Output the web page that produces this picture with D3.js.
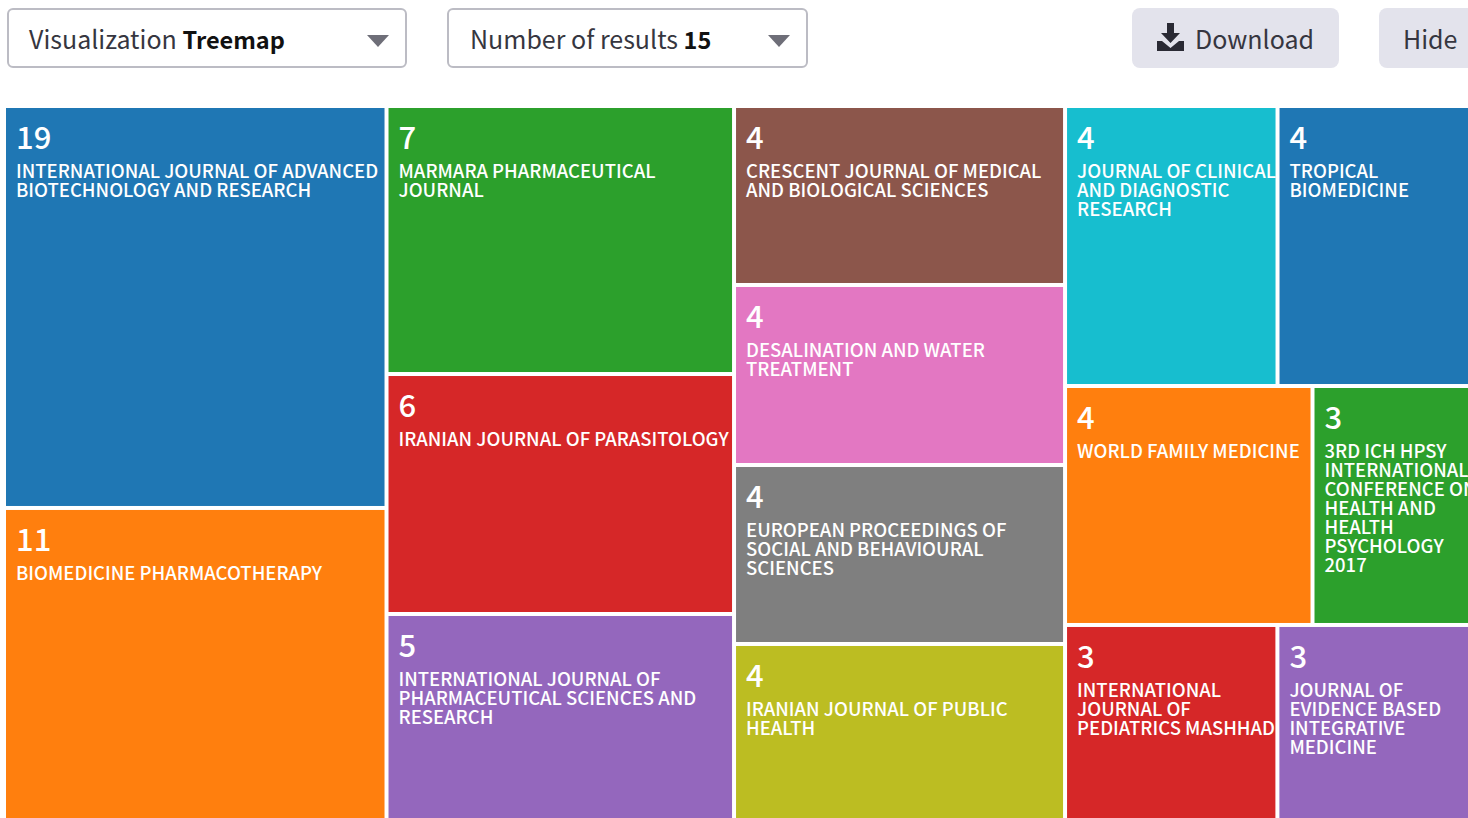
<!DOCTYPE html>
<html lang="en">
<head>
    <meta charset="UTF-8">
    <title>Treemap of sources</title>
    <script src="https://d3js.org/d3.v7.min.js"></script>
    <style>
        html, body {
            margin: 0;
            width: 1468px;
            height: 818px;
            overflow: hidden;
            background: #fff;
            font-family: "Noto Sans CJK SC", "Noto Sans", sans-serif;
        }
        svg {
            position: absolute;
            left: 0;
            top: 0;
        }
        .control {
            position: absolute;
            box-sizing: border-box;
            top: 8px;
            height: 60px;
            line-height: 56px;
            font-size: 25px;
            color: #363640;
            white-space: nowrap;
        }
        .select {
            background: #fff;
            border: 2px solid #bcbcc4;
            border-radius: 6px;
        }
        .select b {
            color: #111;
            font-size: 23.5px;
            font-weight: 700;
        }
        .select span {
            position: absolute;
            left: 20px;
            top: 0;
        }
        .select i {
            position: absolute;
            top: 25px;
            width: 0;
            height: 0;
            border-left: 11px solid transparent;
            border-right: 11px solid transparent;
            border-top: 12px solid #6e6e78;
        }
        .button {
            background: #e3e3ec;
            border-radius: 8px;
            line-height: 60px;
        }
        .button span {
            position: absolute;
            top: 0;
        }
        .count {
            fill: #fff;
            font-size: 31px;
            font-weight: 500;
        }
        .label {
            fill: #fff;
            font-size: 18.5px;
            font-weight: 500;
        }
    </style>
</head>
<body>
    <div class="control select" style="left:7px;width:400px"><span>Visualization <b>Treemap</b></span><i style="left:358px"></i></div>
    <div class="control select" style="left:447px;width:361px"><span style="left:21px">Number of results <b>15</b></span><i style="left:319px"></i></div>
    <div class="control button" style="left:1132px;width:207px">
        <svg width="30" height="30" style="left:24px;top:15px" viewBox="0 0 30 30">
            <path d="M11 0h7v10h6L14.500 20 5 10h6z" fill="#2a2a34"/>
            <path d="M1 18h5l8.500 7 8.500-7h5v10H1z" fill="#2a2a34"/>
        </svg>
        <span style="left:63px">Download</span>
    </div>
    <div class="control button" style="left:1379px;width:120px"><span style="left:24px">Hide</span></div>
    <div id="chart"></div>
    <script>
        // counts shown in the cells
        var counts = [19, 11, 7, 6, 5, 4, 4, 4, 4, 4, 4, 4, 3, 3, 3];

        // journal names, one entry per line as wrapped in the cell
        var names = [
            ["INTERNATIONAL JOURNAL OF ADVANCED", "BIOTECHNOLOGY AND RESEARCH"],
            ["BIOMEDICINE PHARMACOTHERAPY"],
            ["MARMARA PHARMACEUTICAL", "JOURNAL"],
            ["IRANIAN JOURNAL OF PARASITOLOGY"],
            ["INTERNATIONAL JOURNAL OF", "PHARMACEUTICAL SCIENCES AND", "RESEARCH"],
            ["CRESCENT JOURNAL OF MEDICAL", "AND BIOLOGICAL SCIENCES"],
            ["DESALINATION AND WATER", "TREATMENT"],
            ["EUROPEAN PROCEEDINGS OF", "SOCIAL AND BEHAVIOURAL", "SCIENCES"],
            ["IRANIAN JOURNAL OF PUBLIC", "HEALTH"],
            ["JOURNAL OF CLINICAL", "AND DIAGNOSTIC", "RESEARCH"],
            ["TROPICAL", "BIOMEDICINE"],
            ["WORLD FAMILY MEDICINE"],
            ["3RD ICH HPSY", "INTERNATIONAL", "CONFERENCE ON", "HEALTH AND", "HEALTH", "PSYCHOLOGY", "2017"],
            ["INTERNATIONAL", "JOURNAL OF", "PEDIATRICS MASHHAD"],
            ["JOURNAL OF", "EVIDENCE BASED", "INTEGRATIVE", "MEDICINE"]
        ];

        // tile weights (not proportional to the counts)
        var weights = [149.9, 117.85, 90.8, 81.3, 71.15, 57.76, 58.09, 57.76, 58.09, 58.0, 58.0, 57.65, 41.35, 41.2, 41.25];

        // which tiles sit together: columns, then rows inside a column
        var layout = [
            [0, 1],
            [2, 3, 4],
            [5, 6, 7, 8],
            [[9, 10], [11, 12], [13, 14]]
        ];

        function toNode(item) {
            if (Array.isArray(item)) return {children: item.map(toNode)};
            return {id: item, weight: weights[item]};
        }

        var root = d3.hierarchy(toNode(layout))
            .sum(function(d) { return d.weight || 0; });

        d3.treemap()
            .tile(d3.treemapSliceDice)
            .size([1482, 714])
            .paddingInner(4)
            .round(false)(root);

        var color = d3.scaleOrdinal(d3.schemeCategory10);

        var svg = d3.select("#chart").append("svg")
            .attr("width", 1468)
            .attr("height", 818);

        var cell = svg.append("g")
            .attr("transform", "translate(6,108)")
            .selectAll("g")
            .data(root.leaves().sort(function(a, b) { return a.data.id - b.data.id; }))
            .join("g")
            .attr("transform", function(d) { return "translate(" + d.x0 + "," + d.y0 + ")"; });

        cell.append("rect")
            .attr("width", function(d) { return d.x1 - d.x0; })
            .attr("height", function(d) { return d.y1 - d.y0; })
            .attr("fill", function(d) { return color(d.data.id); });

        cell.append("text")
            .attr("class", "count")
            .attr("x", 10)
            .attr("y", 41.3)
            .text(function(d) { return counts[d.data.id]; });

        cell.append("text")
            .attr("class", "label")
            .attr("y", 70.3)
            .selectAll("tspan")
            .data(function(d) { return names[d.data.id]; })
            .join("tspan")
            .attr("x", 10)
            .attr("dy", function(d, i) { return i ? 19 : 0; })
            .text(function(d) { return d; });
    </script>
</body>
</html>
